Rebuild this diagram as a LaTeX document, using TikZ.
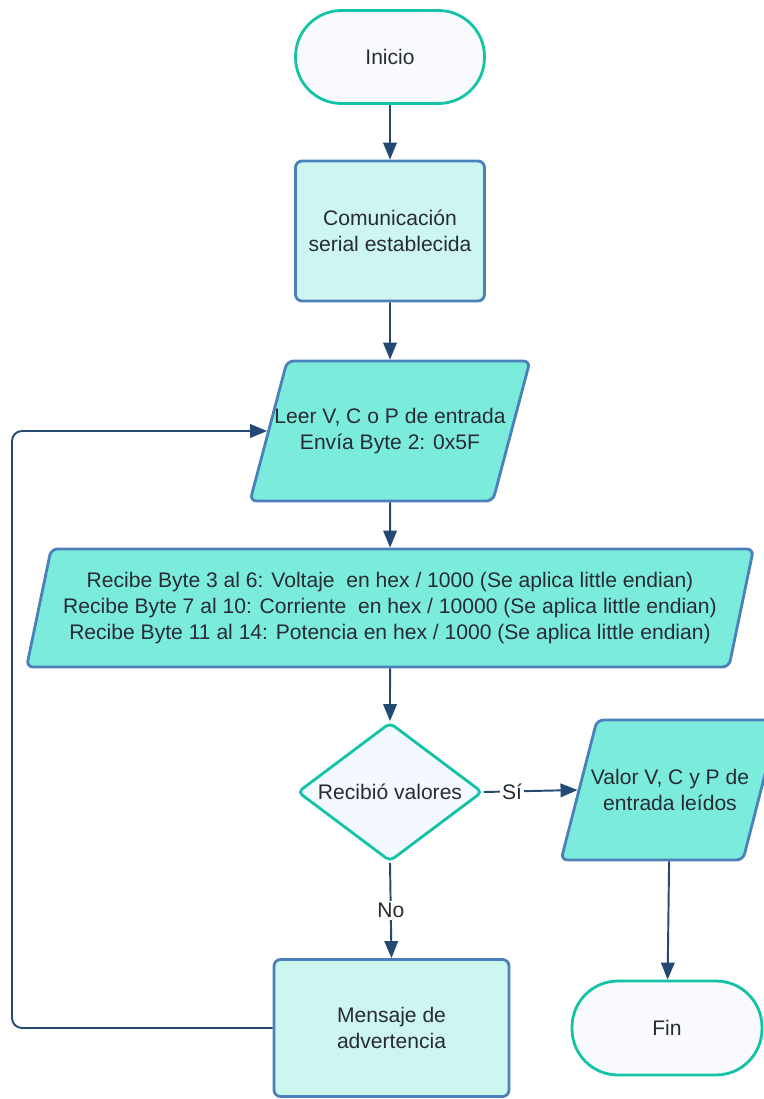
\documentclass[tikz,border=0pt]{standalone}
\usepackage{fontspec}
\setmainfont{Liberation Sans}
\usetikzlibrary{shapes.geometric,arrows.meta}
\definecolor{tealline}{RGB}{20,194,165}
\definecolor{termfill}{RGB}{249,250,253}
\definecolor{decfill}{RGB}{243,249,254}
\definecolor{procline}{RGB}{76,128,186}
\definecolor{procfill}{RGB}{205,246,241}
\definecolor{iofill}{RGB}{123,235,220}
\definecolor{flowline}{RGB}{35,74,114}
\definecolor{txt}{RGB}{40,44,50}

\begin{document}
\begin{tikzpicture}[x=0.02cm,y=-0.02cm,
  every node/.style={font=\fontsize{12}{14.7}\selectfont, text=txt, align=center},
  term/.style={draw=tealline, fill=termfill, line width=1.6pt, rounded corners=0.92cm,
    minimum width=3.78cm, minimum height=1.86cm},
  proc/.style={draw=procline, fill=procfill, line width=1.6pt, rounded corners=0.13cm},
  inout/.style={trapezium, trapezium left angle=75, trapezium right angle=105,
    trapezium stretches body, draw=procline, fill=iofill, line width=1.6pt,
    rounded corners=0.13cm, inner xsep=0pt},
  decis/.style={diamond, aspect=1.33, draw=tealline, fill=decfill, line width=1.6pt,
    rounded corners=0.1cm, minimum width=3.7cm, minimum height=2.78cm, inner sep=0pt},
  flow/.style={draw=flowline, line width=1.1pt, -{Triangle[length=0.34cm,width=0.27cm]}},
  tag/.style={fill=white, inner sep=1pt}]
  \useasboundingbox (0,0) rectangle (764,1099);
  \node[term] (inicio) at (390,57) {Inicio};
  \node[proc, minimum width=3.78cm, minimum height=2.8cm] (com) at (390,231)
    {Comunicación\\serial establecida};
  \node[inout, inner ysep=0.93cm, inner xsep=-0.27cm, minimum width=5.6cm,
    minimum height=2.8cm] (leer) at (390,431)
    {Leer V, C o P de entrada\\Envía Byte 2: 0x5F};
  \node[inout, trapezium left angle=78, trapezium right angle=102, inner ysep=0.44cm,
    minimum width=14.54cm, minimum height=2.36cm] (recibe) at (390,608)
    {Recibe Byte 3 al 6: Voltaje~ en hex / 1000 (Se aplica little endian)\\
     Recibe Byte 7 al 10: Corriente~ en hex / 10000 (Se aplica little endian)\\
     Recibe Byte 11 al 14: Potencia en hex / 1000 (Se aplica little endian)};
  \node[decis] (dec) at (390,792) {Recibió valores};
  \node[inout, inner ysep=0.93cm, inner xsep=-0.39cm, minimum width=4.36cm,
    minimum height=2.8cm] (valor) at (670,790)
    {Valor V, C y P de\\entrada leídos};
  \node[term, minimum width=3.8cm, minimum height=1.88cm] (fin) at (667,1028) {Fin};
  \node[proc, minimum width=4.7cm, minimum height=2.74cm] (msg) at (391.5,1028)
    {Mensaje de\\advertencia};
  \coordinate (back) at (12,1028);
  \draw[flow] (inicio) -- (com);
  \draw[flow] (com) -- (leer);
  \draw[flow] (leer) -- (recibe);
  \draw[flow] (recibe) -- (dec);
  \draw[flow] (dec.east) -- node[tag, pos=0.3] {Sí} (valor.west);
  \draw[flow] (dec.south) -- node[tag] {No} (msg.north);
  \draw[flow] (valor) -- (fin);
  \draw[flow, rounded corners=0.2cm] (msg.west) -- (back) |- (leer.west);
\end{tikzpicture}
\end{document}
